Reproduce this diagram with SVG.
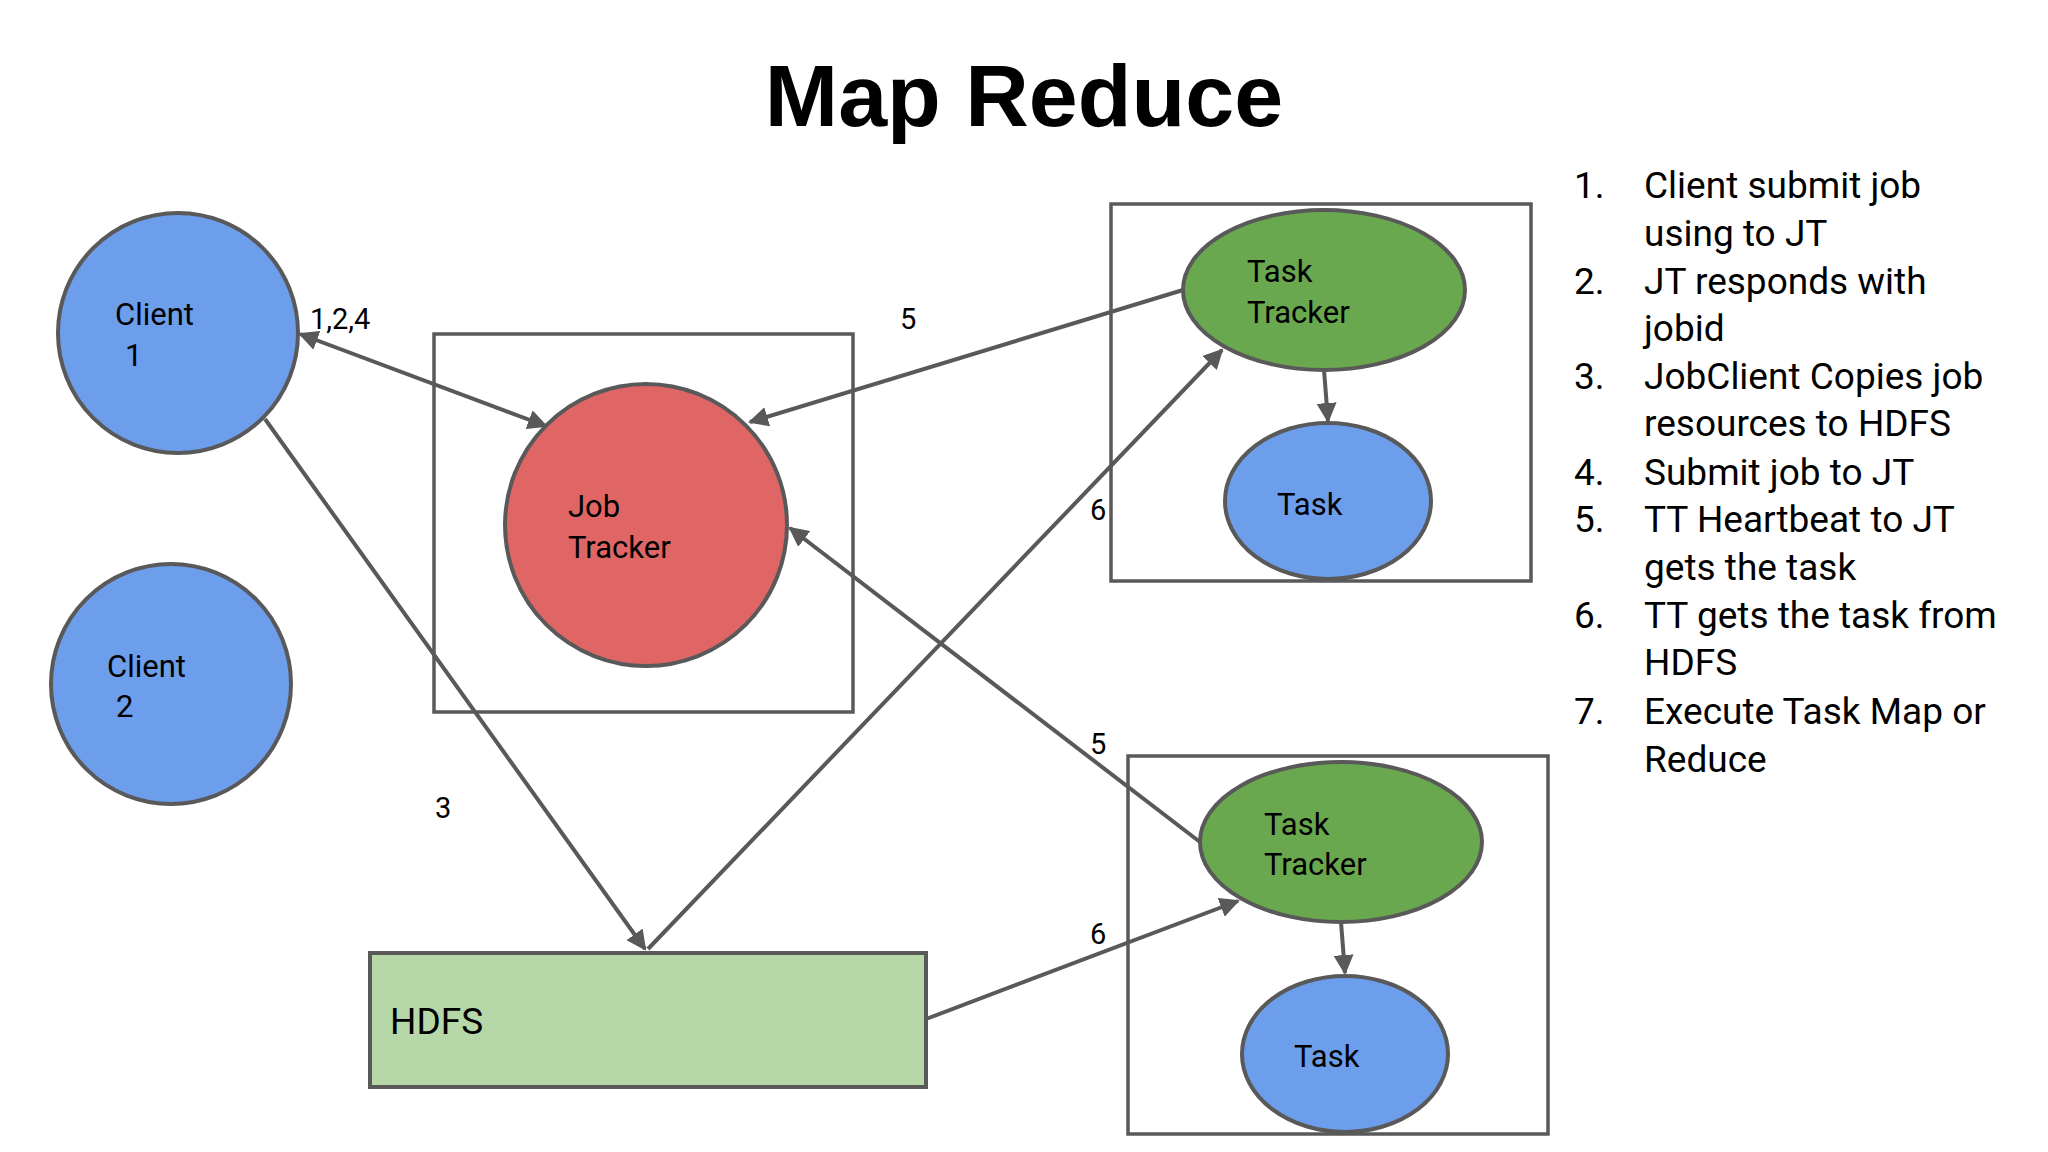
<svg xmlns="http://www.w3.org/2000/svg" width="2048" height="1152" viewBox="0 0 2048 1152">
<style>
text{font-family:"Roboto","Liberation Sans",Arial,sans-serif;fill:#000}
.n{stroke:#595959;stroke-width:4}
.box{fill:none;stroke:#595959;stroke-width:3.5}
.c{stroke:#595959;stroke-width:4;fill:none}
.t{font-size:31px}
.l{font-size:29px}
.li{font-size:37px}
</style>
<defs>
<marker id="a" viewBox="0 0 10 10" refX="9" refY="5" markerWidth="5" markerHeight="5" orient="auto-start-reverse" markerUnits="strokeWidth">
<path d="M0,0L10,5L0,10z" fill="#595959"/>
</marker>
</defs>
<rect width="2048" height="1152" fill="#fff"/>
<text x="1024" y="126" font-size="88" font-weight="bold" text-anchor="middle" style="font-family:'Liberation Sans',Arial,sans-serif">Map Reduce</text>
<g id="jtbox"><rect class="box" x="434" y="334" width="419" height="378"/></g>
<g id="ttbox1"><rect class="box" x="1111" y="204" width="420" height="377"/></g>
<g id="ttbox2"><rect class="box" x="1128" y="756" width="420" height="378"/></g>
<g id="client1"><circle class="n" cx="178" cy="333" r="120" fill="#6d9eeb"/><text class="t" x="115" y="325">Client</text><text class="t" x="125" y="366">1</text></g>
<g id="client2"><circle class="n" cx="171" cy="684" r="120" fill="#6d9eeb"/><text class="t" x="107" y="677">Client</text><text class="t" x="116" y="717">2</text></g>
<g id="jobtracker"><circle class="n" cx="646" cy="525" r="141" fill="#e06666"/><text class="t" x="568" y="517">Job</text><text class="t" x="568" y="558">Tracker</text></g>
<g id="tt1"><ellipse class="n" cx="1324" cy="290" rx="141" ry="80" fill="#6aa84f"/><text class="t" x="1247" y="282">Task</text><text class="t" x="1247" y="323">Tracker</text></g>
<g id="task1"><ellipse class="n" cx="1328" cy="501" rx="103" ry="78" fill="#6d9eeb"/><text class="t" x="1277" y="515">Task</text></g>
<g id="tt2"><ellipse class="n" cx="1341" cy="842" rx="141" ry="80" fill="#6aa84f"/><text class="t" x="1264" y="835">Task</text><text class="t" x="1264" y="875">Tracker</text></g>
<g id="task2"><ellipse class="n" cx="1345" cy="1054" rx="103" ry="78" fill="#6d9eeb"/><text class="t" x="1294" y="1067">Task</text></g>
<g id="hdfs"><rect class="n" x="370" y="953" width="556" height="134" fill="#b6d7a8"/><text x="390" y="1034" font-size="37">HDFS</text></g>
<g id="connectors">
<line class="c" x1="300" y1="334" x2="546" y2="426" marker-start="url(#a)" marker-end="url(#a)"/>
<line class="c" x1="1183" y1="290" x2="750" y2="422" marker-end="url(#a)"/>
<line class="c" x1="265" y1="419" x2="645" y2="949" marker-end="url(#a)"/>
<line class="c" x1="648" y1="949" x2="1222" y2="350" marker-end="url(#a)"/>
<line class="c" x1="1200" y1="842" x2="790" y2="528" marker-end="url(#a)"/>
<line class="c" x1="926" y1="1019" x2="1238" y2="901" marker-end="url(#a)"/>
<line class="c" x1="1324" y1="370" x2="1328" y2="421" marker-end="url(#a)"/>
<line class="c" x1="1341" y1="922" x2="1345" y2="973" marker-end="url(#a)"/>
<text class="l" x="310" y="329">1,2,4</text>
<text class="l" x="900" y="329">5</text>
<text class="l" x="1090" y="520">6</text>
<text class="l" x="435" y="818">3</text>
<text class="l" x="1090" y="754">5</text>
<text class="l" x="1090" y="944">6</text>
</g>
<g id="list" class="li">
<text class="li" x="1574" y="198">1.</text><text class="li" x="1644" y="198">Client submit job</text>
<text class="li" x="1644" y="246">using to JT</text>
<text class="li" x="1574" y="294">2.</text><text class="li" x="1644" y="294">JT responds with</text>
<text class="li" x="1644" y="341">jobid</text>
<text class="li" x="1574" y="389">3.</text><text class="li" x="1644" y="389">JobClient Copies job</text>
<text class="li" x="1644" y="436">resources to HDFS</text>
<text class="li" x="1574" y="485">4.</text><text class="li" x="1644" y="485">Submit job to JT</text>
<text class="li" x="1574" y="532">5.</text><text class="li" x="1644" y="532">TT Heartbeat to JT</text>
<text class="li" x="1644" y="580">gets the task</text>
<text class="li" x="1574" y="628">6.</text><text class="li" x="1644" y="628">TT gets the task from</text>
<text class="li" x="1644" y="675">HDFS</text>
<text class="li" x="1574" y="724">7.</text><text class="li" x="1644" y="724">Execute Task Map or</text>
<text class="li" x="1644" y="772">Reduce</text>
</g>
</svg>
